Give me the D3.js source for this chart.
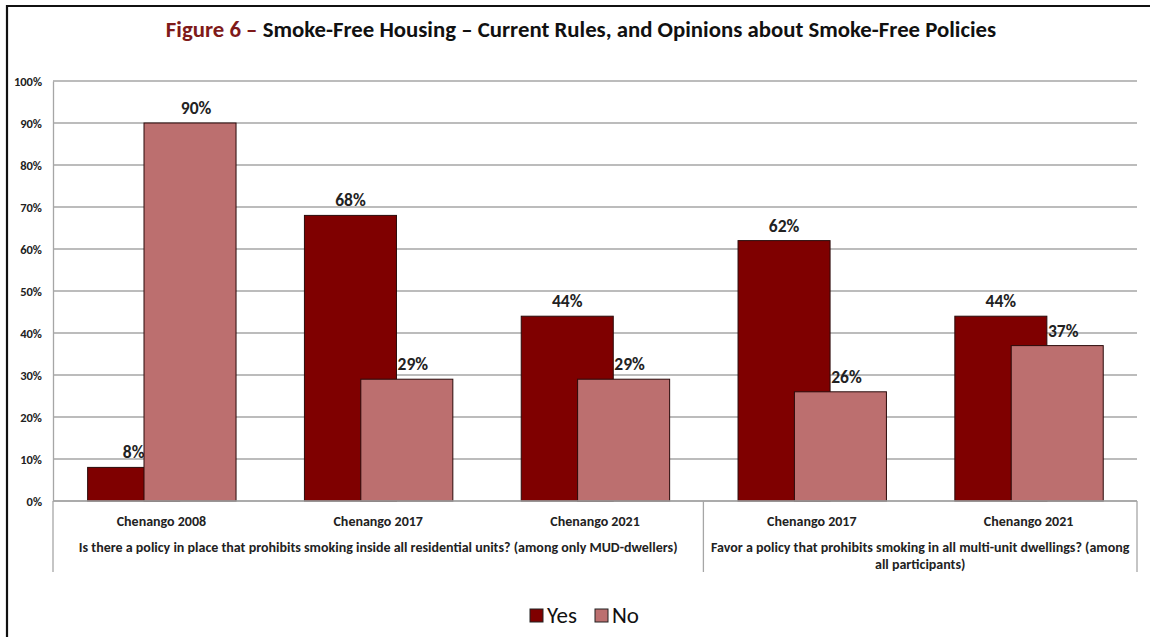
<!DOCTYPE html>
<html>
<head>
<meta charset="utf-8">
<script src="https://cdn.jsdelivr.net/npm/d3@7"></script>
<style>
  html, body { margin: 0; padding: 0; background: #fff; }
  svg { display: block; font-family: "Carlito", "Lato", "Open Sans", sans-serif; }
</style>
</head>
<body>
<svg id="chart" width="1150" height="637"></svg>
<script>
// Survey categories (bottom axis, inner level)
const categories = ["Chenango 2008", "Chenango 2017", "Chenango 2021", "Chenango 2017 ", "Chenango 2021 "];
const categoryLabels = ["Chenango 2008", "Chenango 2017", "Chenango 2021", "Chenango 2017", "Chenango 2021"];
// Question groups (bottom axis, outer level): first/last category index and text lines
const groupStart = [0, 3];
const groupEnd = [2, 4];
const groupLines = [
  ["Is there a policy in place that prohibits smoking inside all residential units? (among only MUD-dwellers)"],
  ["Favor a policy that prohibits smoking in all multi-unit dwellings? (among", "all participants)"]
];
// Series values, percent
const seriesNames = ["Yes", "No"];
const yesValues = [8, 68, 44, 62, 44];
const noValues = [90, 29, 29, 26, 37];
const yTicks = [0, 10, 20, 30, 40, 50, 60, 70, 80, 90, 100];

const colors = { Yes: "#7f0000", No: "#bc6f6f" };

const svg = d3.select("#chart");

// Chart frame
svg.append("path")
  .attr("d", "M7,640 L7,6 L1152,6")
  .attr("fill", "none").attr("stroke", "#111").attr("stroke-width", 2.2);

// Title
const title = svg.append("text")
  .attr("x", 581).attr("y", 37)
  .attr("text-anchor", "middle")
  .attr("font-size", 22.8).attr("font-weight", "bold");
title.append("tspan").attr("fill", "#7f1a1a").text("Figure 6 \u2013 ");
title.append("tspan").attr("fill", "#111").text("Smoke-Free Housing \u2013 Current Rules, and Opinions about Smoke-Free Policies");

const plotLeft = 53, plotRight = 1137, plotTop = 81, plotBottom = 501;

const x = d3.scaleBand().domain(categories).range([plotLeft, plotRight]).paddingInner(0).paddingOuter(0);
const y = d3.scaleLinear().domain([0, 100]).range([plotBottom, plotTop]);
const barW = x.bandwidth() * 0.4245;
const offset = d3.scalePoint().domain(seriesNames).range([-x.bandwidth() * 0.128, x.bandwidth() * 0.132]);

// Gridlines
svg.append("g").selectAll("line").data(yTicks).join("line")
  .attr("x1", plotLeft).attr("x2", plotRight)
  .attr("y1", d => y(d)).attr("y2", d => y(d))
  .attr("stroke", "#a6a6a6").attr("stroke-width", 1.3);

// Y axis
const yAxis = svg.append("g")
  .attr("transform", `translate(${plotLeft},0)`)
  .call(d3.axisLeft(y).tickValues(yTicks).tickFormat(d => d + "%").tickSize(0).tickPadding(11));
yAxis.select(".domain").attr("stroke", "#a6a6a6").attr("stroke-width", 1.3);
yAxis.selectAll("text")
  .attr("font-family", "Carlito, Lato, sans-serif")
  .attr("font-size", 12.5).attr("font-weight", "bold").attr("fill", "#222");

// Bars and value labels, drawn series by series so "No" sits over "Yes"
const seriesData = { Yes: yesValues, No: noValues };
const labelShift = { Yes: 0, No: 6 };
seriesNames.forEach(s => {
  const vals = seriesData[s];
  const g = svg.append("g");
  g.selectAll("rect").data(vals).join("rect")
    .attr("x", (d, i) => x(categories[i]) + x.bandwidth() / 2 + offset(s) - barW / 2)
    .attr("y", d => y(d))
    .attr("width", barW)
    .attr("height", d => y(0) - y(d))
    .attr("fill", colors[s])
    .attr("stroke", "#2a0a0a").attr("stroke-width", 1);
  g.selectAll("text").data(vals).join("text")
    .attr("x", (d, i) => x(categories[i]) + x.bandwidth() / 2 + offset(s) + labelShift[s])
    .attr("y", d => y(d) - 9)
    .attr("text-anchor", "middle")
    .attr("font-size", 17.5).attr("font-weight", "bold").attr("fill", "#222")
    .text(d => d + "%");
});

// Category axis
const axisBottom = 572;
svg.append("line")
  .attr("x1", plotLeft).attr("x2", plotRight).attr("y1", plotBottom).attr("y2", plotBottom)
  .attr("stroke", "#a6a6a6").attr("stroke-width", 1.3);

const groupBounds = groupStart.map((s, i) => [x(categories[s]), x(categories[groupEnd[i]]) + x.bandwidth()]);
const seps = [groupBounds[0][0], ...groupBounds.map(b => b[1])];
svg.append("g").selectAll("line").data(seps).join("line")
  .attr("x1", d => d).attr("x2", d => d)
  .attr("y1", plotBottom).attr("y2", axisBottom)
  .attr("stroke", "#a6a6a6").attr("stroke-width", 1.3);

svg.append("g").selectAll("text").data(categories).join("text")
  .attr("x", d => x(d) + x.bandwidth() / 2)
  .attr("y", 526)
  .attr("text-anchor", "middle")
  .attr("font-size", 14).attr("font-weight", "bold").attr("fill", "#222")
  .text((d, i) => categoryLabels[i]);

groupLines.forEach((lines, gi) => {
  const cx = (groupBounds[gi][0] + groupBounds[gi][1]) / 2;
  const t = svg.append("text")
    .attr("text-anchor", "middle")
    .attr("font-size", 14).attr("font-weight", "bold").attr("fill", "#222");
  lines.forEach((ln, li) => {
    t.append("tspan").attr("x", cx).attr("y", 552 + li * 17).text(ln);
  });
});

// Legend
const legend = svg.append("g");
const legendItems = [{ name: "Yes", x: 530 }, { name: "No", x: 595 }];
legendItems.forEach(it => {
  legend.append("rect")
    .attr("x", it.x).attr("y", 609).attr("width", 13).attr("height", 13)
    .attr("fill", colors[it.name]).attr("stroke", "#222").attr("stroke-width", 1);
  legend.append("text")
    .attr("x", it.x + 17).attr("y", 623)
    .attr("font-size", 23).attr("fill", "#111")
    .text(it.name);
});
</script>
</body>
</html>
